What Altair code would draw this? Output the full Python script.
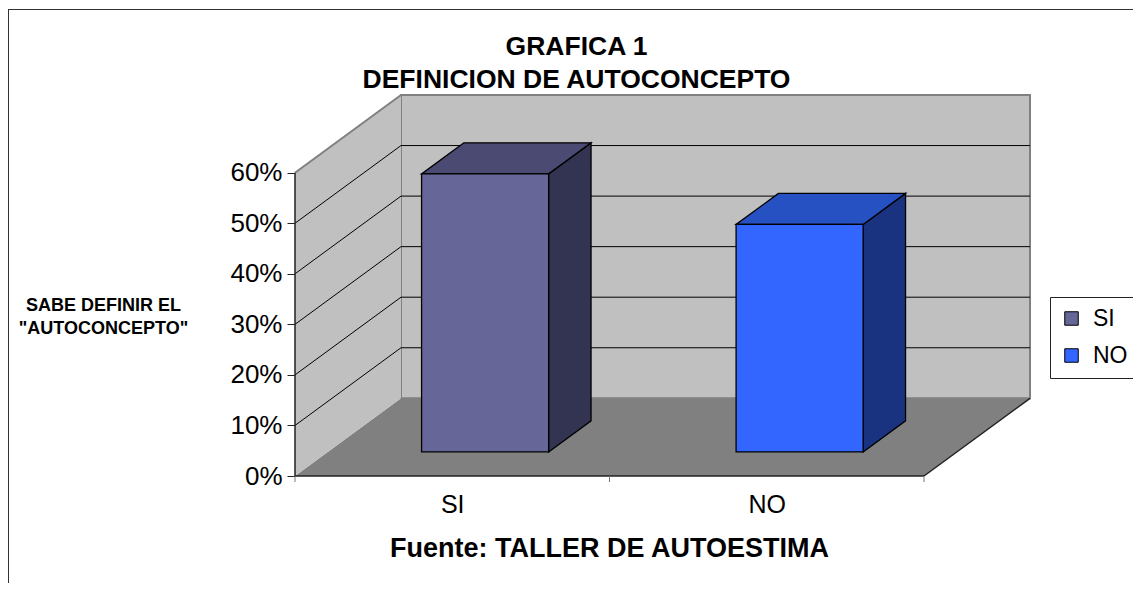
import altair as alt
import pandas as pd

# ---- data ----
categories = ["SI", "NO"]
values = [55, 45]                      # percent
front_colors = ["#666699", "#3366FF"]
top_colors = ["#4A4A73", "#2651C3"]
side_colors = ["#333352", "#1A3380"]
y_ticks = [0, 10, 20, 30, 40, 50, 60]

# ---- 3D geometry parameters (in scale units) ----
DX = 0.337      # depth offset along x (category units)
DY = 15.37      # depth offset along y (percent units)
F0, F1 = 0.31, 0.71   # bar depth (front/back fraction of total depth)
BW = 0.404      # bar width (category units)
YMAX = 60
n = len(categories)
FONT = "Liberation Sans"

xscale = alt.Scale(domain=[0, n + DX], nice=False, zero=False)
yscale = alt.Scale(domain=[0, YMAX + DY], nice=False, zero=False)

label_expr = "''"
for i, c in reversed(list(enumerate(categories))):
    label_expr = f"datum.value == {i + 0.5} ? '{c}' : ({label_expr})"

x_axis = alt.Axis(
    values=[i + 0.5 for i in range(n)],
    labelExpr=label_expr,
    domain=False, grid=False, ticks=False,
    labelFontSize=25, labelFont=FONT, labelColor="black", labelPadding=16,
    labelOverlap=False,
    title="Fuente: TALLER DE AUTOESTIMA", titleFont=FONT, titleFontSize=27,
    titleFontWeight="bold", titleColor="black", titleX=314, titleY=80,
    titleAlign="center", titleBaseline="alphabetic",
)
y_axis = alt.Axis(
    values=y_ticks, labelExpr="datum.value + '%'",
    domain=False, grid=False, tickSize=8, tickColor="#222222", tickWidth=1,
    labelFontSize=26, labelFont=FONT, labelColor="black", labelPadding=5,
    labelOverlap=False,
    title=["SABE DEFINIR EL", '"AUTOCONCEPTO"'], titleFont=FONT, titleFontSize=18,
    titleFontWeight="bold", titleColor="black", titleAngle=0, titleX=-192,
    titleY=215.7, titleAlign="center", titleBaseline="alphabetic",
    titleLineHeight=23,
)


def X(f="x"):
    return alt.X(f"{f}:Q", scale=xscale, axis=x_axis)


def Y(f="y"):
    return alt.Y(f"{f}:Q", scale=yscale, axis=y_axis, stack=None)


# bar faces
fronts, tops, sides = [], [], []
d = F1 - F0
for i, (c, v) in enumerate(zip(categories, values)):
    xl = i + 0.5 - BW / 2 + F0 * DX
    xr = xl + BW
    yb = F0 * DY
    fronts.append(dict(cat=c, x=xl, x2=xr, y=yb, y2=yb + v))
    tops += [dict(poly=c, col=top_colors[i], y=yb + v, x=xl, x2=xr),
             dict(poly=c, col=top_colors[i], y=yb + v + d * DY, x=xl + d * DX, x2=xr + d * DX)]
    sides += [dict(poly=c, col=side_colors[i], x=xr, y=yb, y2=yb + v),
              dict(poly=c, col=side_colors[i], x=xr + d * DX, y=yb + d * DY, y2=yb + v + d * DY)]

back_df = pd.DataFrame([dict(x=DX, x2=n + DX, y=DY, y2=YMAX + DY)])
floor_df = pd.DataFrame([dict(y=0, x=0, x2=n), dict(y=DY, x=DX, x2=n + DX)])
left_df = pd.DataFrame([dict(x=0, y=0, y2=YMAX), dict(x=DX, y=DY, y2=YMAX + DY)])
grid_back = pd.DataFrame([dict(x=DX, x2=n + DX, y=k + DY, y2=k + DY) for k in y_ticks[1:-1]])
grid_left = pd.DataFrame([dict(x=0, x2=DX, y=k, y2=k + DY) for k in y_ticks[1:-1]])
gray_edges = pd.DataFrame([dict(x=0, x2=DX, y=YMAX, y2=YMAX + DY)])
dark_edges = pd.DataFrame([
    dict(x=n, x2=n + DX, y=0, y2=DY),
    dict(x=0, x2=n, y=0, y2=0),
    dict(x=0, x2=0, y=0, y2=YMAX),
])
xtick_df = pd.DataFrame([dict(x=i) for i in range(n + 1)])

one = pd.DataFrame([dict(k=0)])
frame_top = alt.Chart(one).mark_rule(color="#333333", strokeWidth=1).encode(
    x=alt.value(-287), x2=alt.value(900), y=alt.value(-85.5))
frame_left = alt.Chart(one).mark_rule(color="#333333", strokeWidth=1).encode(
    x=alt.value(-286.5), y=alt.value(-86), y2=alt.value(700))

back = alt.Chart(back_df).mark_rect(fill="#C0C0C0", stroke="#808080", strokeWidth=2).encode(
    x=X("x"), x2="x2", y=Y("y"), y2="y2")

floor = alt.Chart(floor_df).mark_area(orient="horizontal", fill="#808080").encode(
    y=Y("y"), x=X("x"), x2="x2")

left = alt.Chart(left_df).mark_area(orient="vertical", fill="#C0C0C0").encode(
    x=X("x"), y=Y("y"), y2="y2")

gb = alt.Chart(grid_back).mark_rule(color="black", strokeWidth=1).encode(
    x=X("x"), x2="x2", y=Y("y"), y2="y2")
gl = alt.Chart(grid_left).mark_rule(color="black", strokeWidth=1).encode(
    x=X("x"), x2="x2", y=Y("y"), y2="y2")
ge = alt.Chart(gray_edges).mark_rule(color="#808080", strokeWidth=2).encode(
    x=X("x"), x2="x2", y=Y("y"), y2="y2")
de = alt.Chart(dark_edges).mark_rule(color="#222222", strokeWidth=1.5).encode(
    x=X("x"), x2="x2", y=Y("y"), y2="y2")
xt = alt.Chart(xtick_df).mark_rule(color="#777777", strokeWidth=1).encode(
    x=X("x"), y=alt.value(381), y2=alt.value(387))

side = alt.Chart(pd.DataFrame(sides)).mark_area(
    orient="vertical", stroke="black", strokeWidth=1.3, strokeJoin="miter"
).encode(x=X("x"), y=Y("y"), y2="y2",
         fill=alt.Fill("col:N", scale=None), detail="poly:N")

top = alt.Chart(pd.DataFrame(tops)).mark_area(
    orient="horizontal", stroke="black", strokeWidth=1.3, strokeJoin="miter"
).encode(y=Y("y"), x=X("x"), x2="x2",
         fill=alt.Fill("col:N", scale=None), detail="poly:N")

front = alt.Chart(pd.DataFrame(fronts)).mark_rect(
    stroke="black", strokeWidth=1.3
).encode(
    x=X("x"), x2="x2", y=Y("y"), y2="y2",
    color=alt.Color(
        "cat:N",
        scale=alt.Scale(domain=categories, range=front_colors),
        legend=alt.Legend(
            title=None, orient="none", legendX=755, legendY=202,
            symbolType="square", symbolSize=182, symbolStrokeColor="black",
            symbolStrokeWidth=1, labelFont=FONT, labelFontSize=23,
            labelColor="black", labelOffset=10, rowPadding=13,
            padding=10, strokeColor="#222222", fillColor="white",
            values=categories,
        ),
    ),
)

chart = alt.layer(
    back, floor, left, gb, gl, ge, de, xt, side, top, front, frame_top, frame_left
).properties(
    width=735, height=381,
    title=alt.TitleParams(
        text=["GRAFICA 1", "DEFINICION DE AUTOCONCEPTO"], font=FONT, fontSize=26.5,
        fontWeight="bold", color="black", anchor="middle", frame="group",
        dx=-86, offset=-85, lineHeight=33,
    ),
    autosize=alt.AutoSizeParams(type="none"),
    padding={"left": 287, "top": 87, "right": 103, "bottom": 107},
).configure(background="white", font=FONT).configure_view(strokeWidth=0)

chart.save("out.html", embed_options={"renderer": "svg", "actions": False})
